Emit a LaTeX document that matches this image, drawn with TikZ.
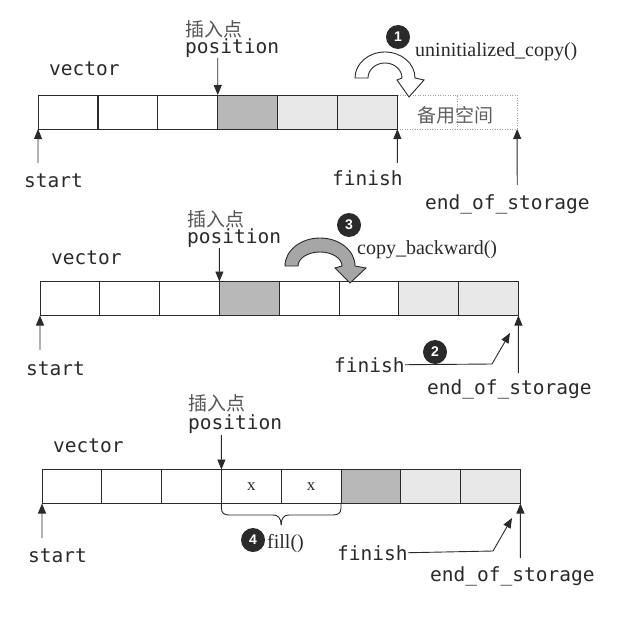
\documentclass[tikz,border=0pt]{standalone}
\usepackage{fontspec}
\setmainfont{Liberation Serif}
\newfontfamily\monof{DejaVu Sans Mono}
\newfontfamily\cjkf{Noto Sans CJK SC}
\newfontfamily\badgef{Liberation Sans}
\usetikzlibrary{arrows.meta}
\definecolor{ink}{HTML}{2A2A2A}
\definecolor{darkcell}{HTML}{B8B8B8}
\definecolor{lightcell}{HTML}{E8E8E8}
\definecolor{dotgray}{HTML}{A0A0A0}
\definecolor{arrowgray}{HTML}{A6A6A6}
\begin{document}
\begin{tikzpicture}[x=1bp,y=-1bp,
  cell/.style={draw=ink, line width=0.9bp, minimum width=59.8bp, minimum height=34bp, inner sep=0pt, outer sep=0pt},
  spare/.style={draw=dotgray, line width=0.8bp, dash pattern=on 1bp off 1.5bp, minimum width=59.8bp, minimum height=34bp, inner sep=0pt, outer sep=0pt},
  lbl/.style={font=\monof\fontsize{19.5bp}{20bp}\selectfont, text=ink, inner sep=0pt, anchor=base west},
  cjk/.style={font=\cjkf\fontsize{19bp}{20bp}\selectfont, text=ink!80, inner sep=0pt, anchor=base west},
  fn/.style={font=\fontsize{20bp}{22bp}\selectfont, text=ink, inner sep=0pt, anchor=base west},
  xl/.style={font=\fontsize{17bp}{18bp}\selectfont, text=ink, inner sep=0pt},
  badge/.style={circle, fill=ink, text=white, minimum size=24bp, inner sep=0pt, font=\badgef\bfseries\fontsize{14bp}{14bp}\selectfont},
  ptr/.style={draw=ink, line width=0.9bp, -{Triangle[width=8bp,length=10bp]}},
  link/.style={draw=ink, line width=0.9bp},
  curvearrow/.style={draw=ink, line width=0.9bp},
]
\fill[white] (0,0) rectangle (640,623);
\useasboundingbox (0,0) rectangle (640,623);

% ---------------- Row 1 ----------------
\foreach \i in {7,8} \node[spare,fill=white] (r1c\i) at ({38+(\i-0.5)*59.9},112) {};
\foreach \i/\c in {1/white,2/white,3/white,4/darkcell,5/lightcell,6/lightcell}
  \node[cell,fill=\c] (r1c\i) at ({38+(\i-0.5)*59.9},112) {};
\node[cjk, anchor=center, text=ink!75] (spare1) at (455,115) {备用空间};
\node[cjk] (ins1) at (185,37) {插入点};
\node[lbl] (pos1) at (185,54) {position};
\node[lbl] (vec1) at (49,76) {vector};
\coordinate (pos1a) at (217.7,58);
\draw[ptr] (pos1a) -- (r1c4.north west);
\node[lbl] (st1) at (24,188) {start};
\coordinate (st1a) at (38,163);
\draw[ptr] (st1a) -- (r1c1.south west);
\node[lbl] (fi1) at (332,186) {finish};
\coordinate (fi1a) at (397.4,163);
\draw[ptr] (fi1a) -- (r1c6.south east);
\node[lbl] (eos1) at (425,209) {end\_of\_storage};
\coordinate (eos1a) at (517.2,185);
\draw[ptr] (eos1a) -- (r1c8.south east);
\filldraw[fill=white, curvearrow] (355,78) arc[start angle=180,end angle=0,x radius=30bp,y radius=26bp]
  -- (424,80) -- (409,97) -- (397,80) -- (402,78)
  arc[start angle=0,end angle=180,x radius=17bp,y radius=15bp] -- cycle;
\node[badge] (bd1) at (398,37) {1};
\node[fn] (fn1) at (415,57) {uninitialized\_copy()};

% ---------------- Row 2 ----------------
\foreach \i/\c in {1/white,2/white,3/white,4/darkcell,5/white,6/white,7/lightcell,8/lightcell}
  \node[cell,fill=\c] (r2c\i) at ({40+(\i-0.5)*59.8},298.5) {};
\node[cjk] (ins2) at (187,226) {插入点};
\node[lbl] (pos2) at (187,243) {position};
\node[lbl] (vec2) at (51,264) {vector};
\coordinate (pos2a) at (219.4,248);
\draw[ptr] (pos2a) -- (r2c4.north west);
\node[lbl] (st2) at (26,375) {start};
\coordinate (st2a) at (40,350);
\draw[ptr] (st2a) -- (r2c1.south west);
\node[lbl] (eos2) at (427,394) {end\_of\_storage};
\coordinate (eos2a) at (518.4,373);
\draw[ptr] (eos2a) -- (r2c8.south east);
\node[lbl] (fi2) at (334,372) {finish};
\coordinate (fi2k) at (492,364);
\coordinate (fi2t) at (510,333);
\draw[ptr] (fi2.east) -- (fi2k) -- (fi2t);
\node[badge] (bd2) at (435,352) {2};
\filldraw[fill=arrowgray, curvearrow] (285,266) arc[start angle=180,end angle=0,x radius=35bp,y radius=28bp]
  -- (366,268) -- (350,283) -- (335,268) -- (342,266)
  arc[start angle=0,end angle=180,x radius=22bp,y radius=14bp] -- cycle;
\node[badge] (bd3) at (349,225) {3};
\node[fn] (fn3) at (357,254) {copy\_backward()};

% ---------------- Row 3 ----------------
\foreach \i/\c in {1/white,2/white,3/white,4/white,5/white,6/darkcell,7/lightcell,8/lightcell}
  \node[cell,fill=\c] (r3c\i) at ({42+(\i-0.5)*59.8},486.5) {};
\node[xl] (x1) at (r3c4) {x};
\node[xl] (x2) at (r3c5) {x};
\node[cjk] (ins3) at (188,410) {插入点};
\node[lbl] (pos3) at (188,429) {position};
\node[lbl] (vec3) at (53,452) {vector};
\coordinate (pos3a) at (221.4,435);
\draw[ptr] (pos3a) -- (r3c4.north west);
\node[lbl] (st3) at (28,562) {start};
\coordinate (st3a) at (42,538);
\draw[ptr] (st3a) -- (r3c1.south west);
\node[lbl] (eos3) at (430,581) {end\_of\_storage};
\coordinate (eos3a) at (520.4,558);
\draw[ptr] (eos3a) -- (r3c8.south east);
\node[lbl] (fi3) at (337,560) {finish};
\coordinate (fi3k) at (493,551);
\coordinate (fi3t) at (512,518);
\draw[ptr] (fi3.east) -- (fi3k) -- (fi3t);
% brace
\draw[link] (r3c4.south west) -- (221.4,508) .. controls (221.4,513) and (224,515) .. (229,515)
  -- (273,515) .. controls (278,515) and (281,518) .. (281.2,525);
\draw[link] (r3c5.south east) -- (341,508) .. controls (341,513) and (338,515) .. (333,515)
  -- (289,515) .. controls (284,515) and (281.2,518) .. (281.2,525);
\node[badge] (bd4) at (253,540) {4};
\node[fn] (fn4) at (267,548) {fill()};
\end{tikzpicture}
\end{document}
